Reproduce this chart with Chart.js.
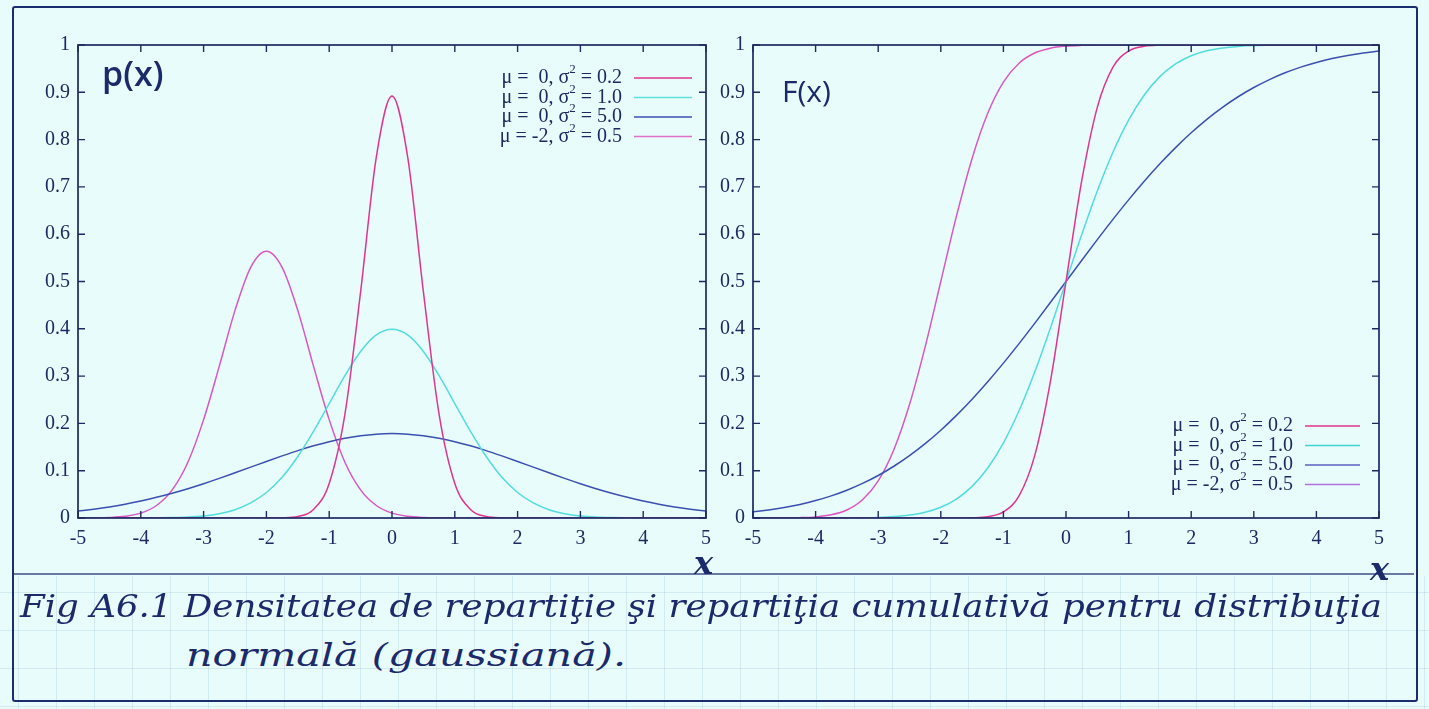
<!DOCTYPE html>
<html>
<head>
<meta charset="utf-8">
<script src="https://cdn.jsdelivr.net/npm/chart.js@4.4.1/dist/chart.umd.min.js"></script>
<style>
  html, body { margin: 0; padding: 0; }
  body { width: 1429px; height: 709px; background: #e9fcfc; position: relative; overflow: hidden; }
  .grid { position: absolute; left: 0; top: 576px; width: 1429px; height: 133px;
    background-image:
      linear-gradient(to right, rgba(150,190,205,0.28) 1px, transparent 1px),
      linear-gradient(to bottom, rgba(150,190,205,0.28) 1px, transparent 1px);
    background-size: 38px 38px; background-position: 18px 16px; }
  .frame { position: absolute; left: 12px; top: 6px; width: 1402px; height: 692px;
    border: 2px solid #1b2d6e; border-radius: 3px; }
  .sep { position: absolute; left: 14px; top: 573px; width: 1400px; height: 0;
    border-top: 2px solid #3b4f86; opacity: 0.75; }
  canvas { position: absolute; }
  #left { left: 0; top: 0; }
  #right { left: 712px; top: 0; }
  .hand { position: absolute; color: #1b2a6a; font-family: "Open Sans", sans-serif; white-space: nowrap; }
  .cap { position: absolute; color: #1b2a6a; font-family: "DejaVu Serif", serif; font-style: italic;
    white-space: nowrap; transform-origin: 0 50%; }
</style>
</head>
<body>
<div class="grid"></div>
<div class="frame"></div>
<div class="sep"></div>
<canvas id="left" width="720" height="590"></canvas>
<canvas id="right" width="717" height="590"></canvas>
<div class="hand" style="left:102px; top:50px; font-size:34px; font-weight:600;">p(x)</div>
<div class="hand" style="left:782px; top:70px; font-size:30px;">F(x)</div>
<div class="hand" style="left:694px; top:544px; font-size:32px; font-family:'DejaVu Serif',serif; font-style:italic; font-weight:bold;">x</div>
<div class="hand" style="left:1370px; top:550px; font-size:32px; font-family:'DejaVu Serif',serif; font-style:italic; font-weight:bold;">x</div>
<div class="cap" id="cap1" data-w="1362" style="left:20px; top:587px; font-size:32px;">Fig A6.1 Densitatea de repartiţie şi repartiţia cumulativă pentru distribuţia</div>
<div class="cap" id="cap2" data-w="440" style="left:186px; top:636px; font-size:32px;">normală (gaussiană).</div>
<script>
// x positions of the sampled points
const xValues = [-5,-4.75,-4.5,-4.25,-4,-3.75,-3.5,-3.25,-3,-2.75,-2.5,-2.25,-2,-1.75,-1.5,-1.25,-1,-0.75,-0.5,-0.25,0,
  0.25,0.5,0.75,1,1.25,1.5,1.75,2,2.25,2.5,2.75,3,3.25,3.5,3.75,4,4.25,4.5,4.75,5];

const seriesLabels = ['μ =  0, σ² = 0.2', 'μ =  0, σ² = 1.0', 'μ =  0, σ² = 5.0', 'μ = -2, σ² = 0.5'];

// density p(x)
const pdfA = [0,0,0,0,0,0,0,0,0,0,0,0,0,0.0004,0.003,0.018,0.073,0.219,0.478,0.763,0.892,
  0.763,0.478,0.219,0.073,0.018,0.003,0.0004,0,0,0,0,0,0,0,0,0,0,0,0,0];
const pdfB = [0,0,0,0,0.0001,0.0004,0.0009,0.002,0.0044,0.0091,0.0175,0.032,0.054,0.086,0.13,0.183,0.242,0.301,0.352,0.387,0.399,
  0.387,0.352,0.301,0.242,0.183,0.13,0.086,0.054,0.032,0.0175,0.0091,0.0044,0.002,0.0009,0.0004,0.0001,0,0,0,0];
const pdfC = [0.0146,0.0187,0.0235,0.0293,0.036,0.0437,0.0524,0.062,0.0725,0.0837,0.0955,0.1075,0.1196,0.1313,0.1425,0.1526,0.1614,0.1687,0.174,0.1773,0.1784,
  0.1773,0.174,0.1687,0.1614,0.1526,0.1425,0.1313,0.1196,0.1075,0.0955,0.0837,0.0725,0.062,0.0524,0.0437,0.036,0.0293,0.0235,0.0187,0.0146];
const pdfD = [0.0001,0.0003,0.0011,0.0036,0.0103,0.0264,0.0595,0.118,0.208,0.321,0.439,0.53,0.564,0.53,0.439,0.321,0.208,0.118,0.0595,0.0264,0.0103,
  0.0036,0.0011,0.0003,0.0001,0,0,0,0,0,0,0,0,0,0,0,0,0,0,0,0];

// cumulative F(x)
const cdfA = [0,0,0,0,0,0,0,0,0,0,0,0,0,0,0.0004,0.0026,0.0127,0.0468,0.1318,0.288,0.5,
  0.712,0.8682,0.9532,0.9873,0.9974,0.9996,1,1,1,1,1,1,1,1,1,1,1,1,1,1];
const cdfB = [0,0,0,0,0,0.0001,0.0002,0.0006,0.0013,0.003,0.0062,0.0122,0.0228,0.0401,0.0668,0.1056,0.1587,0.2266,0.3085,0.4013,0.5,
  0.5987,0.6915,0.7734,0.8413,0.8944,0.9332,0.9599,0.9772,0.9878,0.9938,0.997,0.9987,0.9994,0.9998,0.9999,1,1,1,1,1];
const cdfC = [0.0127,0.0168,0.0221,0.0287,0.0368,0.0468,0.0588,0.0731,0.0899,0.1094,0.1318,0.1571,0.1855,0.2169,0.2512,0.2881,0.3274,0.3687,0.4115,0.4555,0.5,
  0.5445,0.5885,0.6313,0.6726,0.7119,0.7488,0.7831,0.8145,0.8429,0.8682,0.8906,0.9101,0.9269,0.9412,0.9532,0.9632,0.9713,0.9779,0.9832,0.9873];
const cdfD = [0,0,0.0002,0.0007,0.0023,0.0067,0.0169,0.0385,0.0786,0.1444,0.2398,0.3618,0.5,0.6382,0.7602,0.8556,0.9214,0.9615,0.9831,0.9933,0.9977,
  0.9993,0.9998,1,1,1,1,1,1,1,1,1,1,1,1,1,1,1,1,1,1];

const xTicks = [-5,-4,-3,-2,-1,0,1,2,3,4,5];

const colors = ['#e0348f', '#52dcdc', '#3a50b0', '#d858c0'];
const legendColors = [['#e0348f', '#5ee0dc', '#3a50b0', '#e070c8'], ['#e0348f', '#40d4d0', '#5a62c0', '#b070e0']];
const ink = '#1d2a62';
const serif = '"Liberation Serif", serif';

function makeSets(list) {
  return list.map((arr, i) => ({
    label: seriesLabels[i],
    data: arr.map((y, k) => ({ x: xValues[k], y: y })),
    borderColor: colors[i],
    borderWidth: 1.5,
    pointRadius: 0,
    fill: false,
    cubicInterpolationMode: 'monotone'
  }));
}

// gnuplot-like box with inward ticks on all sides, plus a right-aligned key
const gnuBox = {
  id: 'gnuBox',
  afterDatasetsDraw(chart, args, opts) {
    const { ctx, chartArea: a, scales } = chart;
    ctx.save();
    ctx.strokeStyle = ink;
    ctx.lineWidth = 1.7;
    ctx.strokeRect(a.left, a.top, a.right - a.left, a.bottom - a.top);
    ctx.lineWidth = 1.4;
    ctx.beginPath();
    xTicks.forEach(v => {
      const px = scales.x.getPixelForValue(v);
      ctx.moveTo(px, a.bottom); ctx.lineTo(px, a.bottom - 7);
      ctx.moveTo(px, a.top); ctx.lineTo(px, a.top + 7);
    });
    scales.y.ticks.forEach(t => {
      const py = scales.y.getPixelForValue(t.value);
      ctx.moveTo(a.left, py); ctx.lineTo(a.left + 7, py);
      ctx.moveTo(a.right, py); ctx.lineTo(a.right - 7, py);
    });
    ctx.stroke();

    // key
    ctx.textBaseline = 'middle';
    chart.data.datasets.forEach((ds, i) => {
      const y = opts.y + i * opts.step;
      const parts = ds.label.split('²');
      ctx.font = '20px ' + serif;
      const w0 = ctx.measureText(parts[0]).width;
      const w2 = ctx.measureText(parts[1]).width;
      ctx.font = '13px ' + serif;
      const ws = ctx.measureText('2').width;
      const x = opts.x - (w0 + ws + w2);
      ctx.fillStyle = ink;
      ctx.font = '20px ' + serif;
      ctx.fillText(parts[0], x, y);
      ctx.font = '13px ' + serif;
      ctx.fillText('2', x + w0, y - 8);
      ctx.font = '20px ' + serif;
      ctx.fillText(parts[1], x + w0 + ws, y);
      ctx.strokeStyle = opts.colors[i];
      ctx.lineWidth = 1.7;
      ctx.beginPath();
      ctx.moveTo(opts.x0, y); ctx.lineTo(opts.x1, y);
      ctx.stroke();
    });
    ctx.restore();
  }
};

function makeChart(id, sets, yAxisWidth, padRight, key) {
  return new Chart(document.getElementById(id), {
    type: 'line',
    data: { datasets: makeSets(sets) },
    plugins: [gnuBox],
    options: {
      responsive: false,
      animation: false,
      devicePixelRatio: 1,
      layout: { padding: { top: 45, right: padRight, left: 0, bottom: 0 } },
      plugins: { legend: { display: false }, tooltip: { enabled: false }, gnuBox: key },
      scales: {
        x: {
          type: 'linear', min: -5, max: 5,
          afterFit: s => { s.height = 72; },
          grid: { display: false, drawTicks: false },
          border: { display: false },
          ticks: { stepSize: 1, padding: 9, maxRotation: 0, color: ink,
            font: { family: serif, size: 20 } }
        },
        y: {
          min: 0, max: 1,
          afterFit: s => { s.width = yAxisWidth; },
          grid: { display: false, drawTicks: false },
          border: { display: false },
          ticks: { stepSize: 0.1, padding: 8, color: ink,
            font: { family: serif, size: 20 },
            callback: v => String(Number(v.toFixed(1))) }
        }
      }
    }
  });
}

makeChart('left', [pdfA, pdfB, pdfC, pdfD], 78, 12,
  { x: 622, y: 78, step: 19.5, x0: 634, x1: 692, colors: legendColors[0] });
makeChart('right', [cdfA, cdfB, cdfC, cdfD], 41, 50,
  { x: 1293 - 712, y: 426, step: 19.5, x0: 1305 - 712, x1: 1360 - 712, colors: legendColors[1] });

// stretch caption lines to the width of the handwriting
document.querySelectorAll('.cap').forEach(el => {
  const w = el.getBoundingClientRect().width;
  el.style.transform = 'scaleX(' + (Number(el.dataset.w) / w) + ')';
});
</script>
</body>
</html>
